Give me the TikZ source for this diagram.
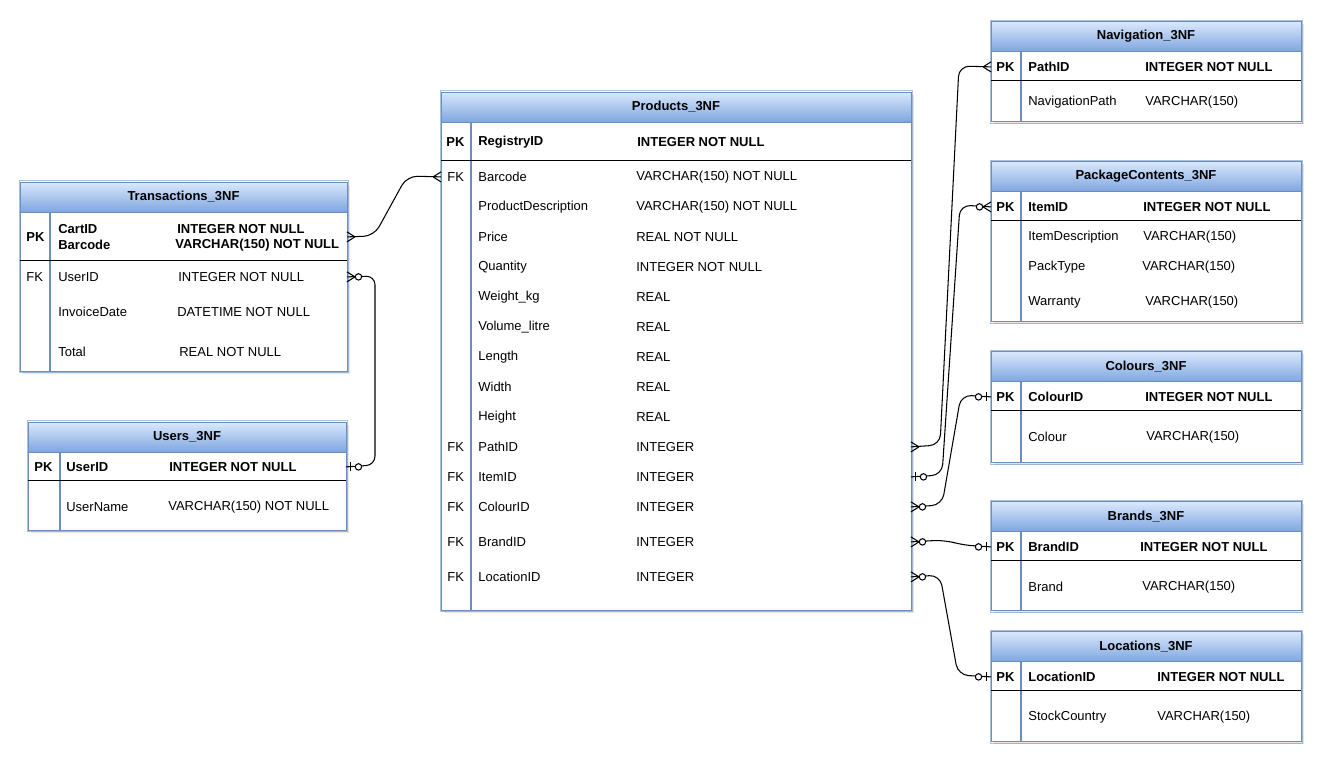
\documentclass[tikz,border=0pt]{standalone}
\usepackage{fontspec}
\setmainfont{Liberation Sans}
\usetikzlibrary{positioning,shadows}

\definecolor{hdtop}{HTML}{DAE8FC}
\definecolor{hdbot}{HTML}{7EA6E0}
\definecolor{tblline}{HTML}{6C8EBF}

% ER end marks, drawn with the table edge at (0,0) and the line coming from the left
\tikzset{
  many/.pic={\draw[rel] (-8,0) -- (0,-5) (-8,0) -- (0,5);},
  zmany/.pic={\draw[rel] (-8,0) -- (0,-5) (-8,0) -- (0,5);
              \draw[rel, fill=white] (-11.5,0) circle[radius=3.2];},
  zone/.pic={\draw[rel] (-5,-4.5) -- (-5,4.5);
             \draw[rel, fill=white] (-12.5,0) circle[radius=3.2];},
}

\begin{document}
\begin{tikzpicture}[x=0.02cm, y=-0.02cm, font=\fontsize{7.4}{9}\selectfont]
        % Define block styles
        \tikzstyle{thead} = [rectangle, draw=tblline, top color=hdtop, bottom color=hdbot, font=\fontsize{7.4}{9}\selectfont\bfseries, minimum height=0.6cm, outer sep=0pt, inner sep=0pt, drop shadow={opacity=0.2, shadow xshift=1.5pt, shadow yshift=-1.5pt}]
        \tikzstyle{tbody} = [rectangle, draw=tblline, fill=white, outer sep=0pt, inner sep=0pt, drop shadow={opacity=0.2, shadow xshift=1.5pt, shadow yshift=-1.5pt}]
        \tikzstyle{sketch} = [draw=tblline, opacity=0.55, line width=0.5pt]
        \tikzstyle{divider} = [draw=tblline, line width=0.8pt]
        \tikzstyle{sep} = [draw=black, line width=0.55pt]
        \tikzstyle{fld} = [anchor=west, inner sep=0pt, yshift=-0.5pt]
        \tikzstyle{key} = [fld, font=\fontsize{7.4}{9}\selectfont\bfseries]
        \tikzstyle{rel} = [draw=black, line width=0.6pt]

        \useasboundingbox (0,0) rectangle (1323,764);

        % Transactions
        \node[thead, minimum width=6.54cm] (trans) at (183.5,197) {Transactions\_3NF};
        \node[tbody, minimum width=6.54cm, minimum height=3.18cm, below=0pt of trans] (transB) {};
        \draw[divider] (50,212) -- (50,371);
        \draw[sep] (20,260) -- (347,260);
        \node[key] (t-pk) at (26,236) {PK};
        \node[key] (t-cart) at (58,228) {CartID};
        \node[key] (t-bar) at (58,244) {Barcode};
        \node[key] at (177,228) {INTEGER NOT NULL};
        \node[key] at (175,244) {VARCHAR(150) NOT NULL};
        \node[fld] (t-fk) at (26,276) {FK};
        \node[fld] (t-user) at (58,276) {UserID};
        \node[fld] at (178,276) {INTEGER NOT NULL};
        \node[fld] (t-date) at (58,311) {InvoiceDate};
        \node[fld] at (177,311) {DATETIME NOT NULL};
        \node[fld] (t-total) at (58,351) {Total};
        \node[fld] at (179,351) {REAL NOT NULL};

        % Users
        \node[thead, minimum width=6.36cm] (users) at (187,437) {Users\_3NF};
        \node[tbody, minimum width=6.36cm, minimum height=1.56cm, below=0pt of users] (usersB) {};
        \draw[divider] (60,452) -- (60,530);
        \draw[sep] (28,480) -- (346,480);
        \node[key] (u-pk) at (34,466) {PK};
        \node[key] (u-id) at (66,466) {UserID};
        \node[key] at (169,466) {INTEGER NOT NULL};
        \node[fld] (u-name) at (66,506) {UserName};
        \node[fld] at (168,506) {VARCHAR(150) NOT NULL};

        % Products
        \node[thead, minimum width=9.4cm] (prod) at (676,107) {Products\_3NF};
        \node[tbody, minimum width=9.4cm, minimum height=9.76cm, below=0pt of prod] (prodB) {};
        \draw[divider] (471,122) -- (471,610);
        \draw[sep] (441,160) -- (911,160);
        \node[key] (p-pk) at (446,141) {PK};
        \node[key] (p-reg) at (478,141) {RegistryID};
        \node[key] at (637,141) {INTEGER NOT NULL};
        \foreach \nm/\ty/\yy/\fk [count=\i] in {
            Barcode/VARCHAR(150) NOT NULL/176/FK,
            ProductDescription/VARCHAR(150) NOT NULL/206/,
            Price/REAL NOT NULL/236/,
            Quantity/INTEGER NOT NULL/266/,
            Weight\_kg/REAL/296/,
            Volume\_litre/REAL/326/,
            Length/REAL/356/,
            Width/REAL/386/,
            Height/REAL/416/,
            PathID/INTEGER/446/FK,
            ItemID/INTEGER/476/FK,
            ColourID/INTEGER/506/FK,
            BrandID/INTEGER/541/FK,
            LocationID/INTEGER/576/FK} {
          \node[fld] (p-\i) at (478,\yy) {\nm};
          \node[fld] at (636,\yy) {\ty};
          \node[fld] at (447,\yy) {\fk};
        }

        % Navigation
        \node[thead, minimum width=6.2cm] (nav) at (1146,36.5) {Navigation\_3NF};
        \node[tbody, minimum width=6.2cm, minimum height=1.4cm, below=0pt of nav] (navB) {};
        \draw[divider] (1021,51) -- (1021,121);
        \draw[sep] (991,80) -- (1301,80);
        \node[key] (n-pk) at (996,66) {PK};
        \node[key] (n-id) at (1028,66) {PathID};
        \node[key] at (1145,66) {INTEGER NOT NULL};
        \node[fld] (n-path) at (1028,101) {NavigationPath};
        \node[fld] at (1145,101) {VARCHAR(150)};

        % PackageContents
        \node[thead, minimum width=6.2cm] (pack) at (1146,176.5) {PackageContents\_3NF};
        \node[tbody, minimum width=6.2cm, minimum height=2.6cm, below=0pt of pack] (packB) {};
        \draw[divider] (1021,191) -- (1021,321);
        \draw[sep] (991,220) -- (1301,220);
        \node[key] (k-pk) at (996,206) {PK};
        \node[key] (k-id) at (1028,206) {ItemID};
        \node[key] at (1143,206) {INTEGER NOT NULL};
        \node[fld] (k-desc) at (1028,236) {ItemDescription};
        \node[fld] at (1143,236) {VARCHAR(150)};
        \node[fld] (k-type) at (1028,266) {PackType};
        \node[fld] at (1142,266) {VARCHAR(150)};
        \node[fld] (k-war) at (1028,301) {Warranty};
        \node[fld] at (1145,301) {VARCHAR(150)};

        % Colours
        \node[thead, minimum width=6.2cm] (col) at (1146,366.5) {Colours\_3NF};
        \node[tbody, minimum width=6.2cm, minimum height=1.62cm, below=0pt of col] (colB) {};
        \draw[divider] (1021,381) -- (1021,462);
        \draw[sep] (991,410) -- (1301,410);
        \node[key] (c-pk) at (996,396) {PK};
        \node[key] (c-id) at (1028,396) {ColourID};
        \node[key] at (1145,396) {INTEGER NOT NULL};
        \node[fld] (c-name) at (1028,436) {Colour};
        \node[fld] at (1146,436) {VARCHAR(150)};

        % Brands
        \node[thead, minimum width=6.2cm] (brand) at (1146,516.5) {Brands\_3NF};
        \node[tbody, minimum width=6.2cm, minimum height=1.58cm, below=0pt of brand] (brandB) {};
        \draw[divider] (1021,531) -- (1021,610);
        \draw[sep] (991,560) -- (1301,560);
        \node[key] (b-pk) at (996,546) {PK};
        \node[key] (b-id) at (1028,546) {BrandID};
        \node[key] at (1140,546) {INTEGER NOT NULL};
        \node[fld] (b-name) at (1028,586) {Brand};
        \node[fld] at (1142,586) {VARCHAR(150)};

        % Locations
        \node[thead, minimum width=6.2cm] (loc) at (1146,646.5) {Locations\_3NF};
        \node[tbody, minimum width=6.2cm, minimum height=1.6cm, below=0pt of loc] (locB) {};
        \draw[divider] (1021,661) -- (1021,741);
        \draw[sep] (991,690) -- (1301,690);
        \node[key] (l-pk) at (996,676) {PK};
        \node[key] (l-id) at (1028,676) {LocationID};
        \node[key] at (1157,676) {INTEGER NOT NULL};
        \node[fld] (l-name) at (1028,716) {StockCountry};
        \node[fld] at (1157,716) {VARCHAR(150)};

        % hand-drawn second stroke round each table
        \foreach \t in {trans,users,prod,nav,pack,col,brand,loc}
          \draw[sketch] ([shift={(-1,-1.5)}]\t.north west) rectangle ([shift={(1.5,1.5)}]\t B.south east);

        % Relationships
        \coordinate (tA) at (transB.east |- t-pk);
        \coordinate (pA) at (prodB.west |- p-1);
        \draw[rel, rounded corners=6pt] (tA) -- (374,236) -- (407,176) -- (pA);
        \pic[rotate=180] at (tA) {many};
        \pic at (pA) {many};

        \coordinate (tB) at (transB.east |- t-user);
        \coordinate (uB) at (usersB.east |- u-id);
        \draw[rel, rounded corners=5pt] (tB) -- (375,276) -- (375,465) -- (uB);
        \pic[rotate=180] at (tB) {zmany};
        \pic[rotate=180] at (uB) {zone};

        \coordinate (pC) at (prodB.east |- p-10);
        \coordinate (nC) at (navB.west |- n-pk);
        \draw[rel, rounded corners=6pt] (pC) -- (940,445) -- (959,66) -- (nC);
        \pic[rotate=180] at (pC) {many};
        \pic at (nC) {many};

        \coordinate (pD) at (prodB.east |- p-11);
        \coordinate (kD) at (packB.west |- k-pk);
        \draw[rel, rounded corners=6pt] (pD) -- (942,475) -- (960,205) -- (kD);
        \pic[rotate=180] at (pD) {zone};
        \pic at (kD) {zmany};

        \coordinate (pE) at (prodB.east |- p-12);
        \coordinate (cE) at (colB.west |- c-pk);
        \draw[rel, rounded corners=6pt] (pE) -- (942,505) -- (961,395) -- (cE);
        \pic[rotate=180] at (pE) {zmany};
        \pic at (cE) {zone};

        \coordinate (pF) at (prodB.east |- p-13);
        \coordinate (bF) at (brandB.west |- b-pk);
        \draw[rel, rounded corners=6pt] (pF) -- (945,540) -- (962,545) -- (bF);
        \pic[rotate=180] at (pF) {zmany};
        \pic at (bF) {zone};

        \coordinate (pG) at (prodB.east |- p-14);
        \coordinate (lG) at (locB.west |- l-pk);
        \draw[rel, rounded corners=6pt] (pG) -- (940,575) -- (958,675) -- (lG);
        \pic[rotate=180] at (pG) {zmany};
        \pic at (lG) {zone};

    \end{tikzpicture}
\end{document}
